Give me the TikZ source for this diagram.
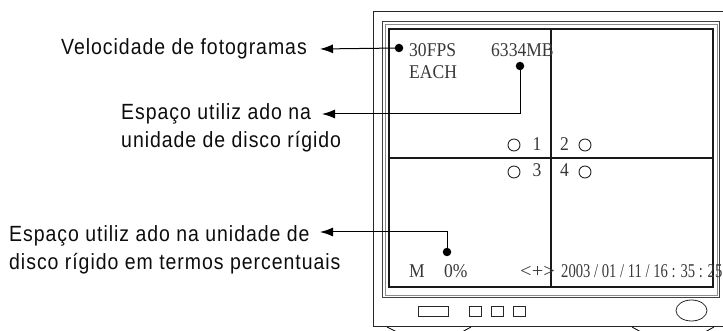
\documentclass[tikz,border=0pt]{standalone}
\usepackage{graphicx}
\usepackage{fontspec}
\setmainfont{Liberation Serif}
\newfontfamily\labfont[LetterSpace=5]{Liberation Sans}
\usetikzlibrary{arrows.meta,shapes.geometric}
\newcommand{\labtext}[1]{\scalebox{0.885}[1]{\begin{tabular}[t]{@{}l@{}}#1\end{tabular}}}
\newcommand{\scrtext}[1]{\scalebox{0.9}[1]{#1}}
\tikzset{
  lab/.style={font=\labfont\fontsize{22}{27.5}\selectfont, inner sep=0pt, text=black!95},
  scr/.style={font=\fontsize{19.5}{22}\selectfont, inner sep=0pt, text=black!78},
  dot/.style={circle, fill=black, inner sep=0pt, minimum size=8.5pt},
  ring/.style={circle, draw=black!85, line width=0.9pt, inner sep=0pt, minimum size=12pt},
  arr/.style={-{Latex[length=13pt,width=9pt]}, line width=1pt},
  btn/.style={draw=black!85, line width=0.8pt},
}
\begin{document}
\begin{tikzpicture}[x=1pt,y=-1pt]
\useasboundingbox (0,0) rectangle (723,331);
% monitor outer frame (open at right)
\draw[line width=1pt, black!85] (723,12) -- (373,12) -- (373,326) -- (723,326);
% bezel
\draw[line width=1pt, black!75] (382,22) rectangle (719,297);
\draw[line width=1pt, black!45] (385,25) rectangle (717,295);
% screen
\draw[line width=1.5pt, black!90] (389,29) rectangle (713,287);
\draw[line width=1.2pt, black!90] (551,29) -- (551,287);
\draw[line width=1.2pt, black!90] (389,158) -- (713,158);
% stand
\draw[line width=0.8pt] (387,327) -- (397,332);
\draw[line width=0.8pt] (462,332) -- (471,327);
\draw[line width=0.8pt] (632,327) -- (641,332);
\draw[line width=0.8pt] (705,332) -- (714,327);
% buttons
\node[btn, rectangle, minimum width=30pt, minimum height=10pt, inner sep=0pt] (b0) at (433,311) {};
\node[btn, rectangle, minimum width=12pt, minimum height=10pt, inner sep=0pt] (b1) at (475,311) {};
\node[btn, rectangle, minimum width=12pt, minimum height=10pt, inner sep=0pt] (b2) at (497,311) {};
\node[btn, rectangle, minimum width=12pt, minimum height=10pt, inner sep=0pt] (b3) at (519,311) {};
\node[btn, ellipse, minimum width=31pt, minimum height=21pt, inner sep=0pt] (pw) at (691.5,310.5) {};
% screen texts
\node[scr, anchor=base west] (fps) at (409,57) {\scrtext{30FPS}};
\node[scr, anchor=base west] (each) at (409,79) {\scrtext{EACH}};
\node[scr, anchor=base west] (mb) at (491,57) {\scrtext{6334MB}};
\node[scr, anchor=base west] (n1) at (532.5,151) {\scrtext{1}};
\node[scr, anchor=base west] (n2) at (560,151) {\scrtext{2}};
\node[scr, anchor=base west] (n3) at (532.5,177) {\scrtext{3}};
\node[scr, anchor=base west] (n4) at (560,177) {\scrtext{4}};
\node[ring] (c1) at (514,145) {};
\node[ring] (c2) at (585,145) {};
\node[ring] (c3) at (514,172) {};
\node[ring] (c4) at (585,172) {};
\node[scr, anchor=base west] (m) at (409,277) {\scrtext{M}};
\node[scr, anchor=base west] (pc) at (444,277) {\scrtext{0\%}};
\node[scr, anchor=base west] (pm) at (520,277) {\scalebox{1.05}[1]{<+>}};
\node[scr, anchor=base west] (dt) at (561,277) {\scalebox{0.75}[1]{2003 / 01 / 11 / 16 : 35 : 25}};
% labels
\node[lab, anchor=base west] (l1) at (61,55) {\labtext{Velocidade de fotogramas}};
\node[lab, anchor=base west] (l2) at (121,120) {\labtext{Espaço utiliz ado na\\unidade de disco rígido}};
\node[lab, anchor=base west] (l3) at (9,242) {\labtext{Espaço utiliz ado na unidade de\\disco rígido em termos percentuais}};
% connectors
\coordinate (t1) at (320,49);
\coordinate (t2) at (322,114);
\coordinate (t3) at (320,232);
\node[dot] (d1) at (399,48) {};
\node[dot] (d2) at (520,66) {};
\node[dot] (d3) at (447,252) {};
\draw[arr] (d1.center) -- (t1);
\draw[arr] (d2.center) |- (t2);
\draw[arr] (d3.center) |- (t3);
\end{tikzpicture}
\end{document}
